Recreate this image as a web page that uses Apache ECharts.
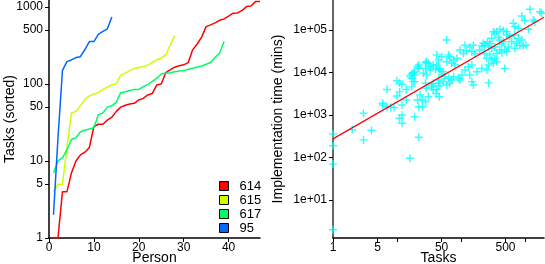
<!DOCTYPE html>
<html><head><meta charset="utf-8">
<script src="https://cdn.jsdelivr.net/npm/echarts@6/dist/echarts.min.js"></script>
<style>html,body{margin:0;padding:0;background:#fff}#c{width:545px;height:264px}</style>
</head><body><div id="c"></div>
<script>
// Left panel: tasks per person, sorted
const tasks614 = [1,1,4,4,7,10,12,13,15,28,30,30,34,37,44,50,53,55,56,62,65,72,75,97,100,140,152,165,172,177,189,277,330,405,555,584,620,670,700,760,828,835,900,1010,1030,1172,1172];
const tasks615 = [4,5,5,15,42,44,52,63,70,74,77,85,91,97,101,130,138,149,159,164,168,175,190,205,216,238,320,420];
const tasks617 = [7,10,11,14,19,20,24,25,26,27,40,42,50,52,58,77,79,82,85,85,92,98,108,118,135,138,140,144,147,149,155,160,166,171,180,190,222,251,355];
const tasks95 = [2,20,150,195,205,220,226,280,355,355,440,480,520,740];
const seriesNames = ['614','615','617','95'];
const seriesColors = ['#FF0000','#CCFF00','#00FF66','#0066FF'];
const leftXTicks = [0,10,20,30,40];
const leftYTicks = [1,5,10,50,100,500,1000];

// Right panel: tasks vs implementation time
const scatterTasks = [1,1,1,1,2,3,3,4,6,7,8,9,6,7,10,11,12,10,11,12,11,12,12,14,14,16,17,18,19,17,16,19,19,21,22,21,22,23,25,28,28,29,31,33,35,37,42,41,45,46,42,45,
1210,1730,1840,900,1000,1360,1430,660,700,795,1140,407,463,523,365,340,323,523,582,697,795,898,305,387,407,463,437,260,284,237,272,305,340,750,834,950,1050,626,554,697,407,487,365,437,523,
60,116,138,157,213,225,97,110,124,149,165,198,237,284,255,64,67,77,87,60,72,81,42,45,50,29,31,28,33,37,22,19,17,26,40,18,25,28,29,37,35,45,53,60,67,72,97,47,47,53,50,56,64,77,92,104,116,131,149,178,213,255,272,323,365,305,340,487,272,149,157,138,22];
const scatterMins = [360,190,70,2,450,1100,260,440,1720,1570,1520,1500,1900,4000,6400,5700,5300,2800,3500,1720,840,1000,640,4000,2250,8300,9200,9900,8700,4600,96,6100,910,13700,15000,2250,300,2950,1570,17000,5600,8700,2700,11500,5100,3900,4000,3200,4800,2700,15000,12500,
307000,270000,247000,213000,165000,172000,157000,144000,120000,110000,104000,104000,96000,91000,91000,84000,91000,76000,69500,76000,64000,58000,64000,67000,58000,53000,47000,53000,48600,44000,40000,37000,40000,48600,44000,42000,44000,53000,40000,37000,34000,35000,28000,29000,31000,
58000,44000,40000,44000,42000,48600,34000,28000,32600,31000,28000,34000,28000,26000,21600,26000,23500,19700,21600,18000,16500,15000,26000,19700,23500,18000,16500,12500,13700,15000,12500,10400,7300,9600,12000,6100,2250,2050,4250,5600,4600,6700,6100,5100,5600,6700,6700,5600,11500,10400,8700,8000,7300,8000,7300,8700,11500,13700,15000,10400,12500,11500,15000,16500,18000,19700,21600,12500,5700,6100,5100,8700,1570];
const fitTasks = [1, 2000];
const fitMins = [275, 200000];
const rightXTicks = [1,5,10,50,100,500,1000];
const rightXLabels = [1,5,50,500];
const rightYTicks = [10,100,1000,10000,100000];

const font = '"Liberation Sans", Arial, Helvetica, sans-serif';
const chart = echarts.init(document.getElementById('c'));
const leftLines = [tasks614, tasks615, tasks617, tasks95];
const plusPath = 'path://M4.1,0h1.8v4.1h4.1v1.8h-4.1v4.1h-1.8v-4.1h-4.1v-1.8h4.1z';

const series = leftLines.map((arr, k) => ({
  name: seriesNames[k], type: 'line', xAxisIndex: 0, yAxisIndex: 0,
  data: arr.map((v, i) => [i + 1, v]), showSymbol: false, symbol: 'none',
  lineStyle: {color: seriesColors[k], width: 1.5}, itemStyle: {color: seriesColors[k]}
}));
series.push({
  type: 'scatter', xAxisIndex: 1, yAxisIndex: 1, symbol: plusPath, symbolSize: 8,
  itemStyle: {color: '#00FFFF'}, data: scatterTasks.map((t, i) => [t, scatterMins[i]])
});
series.push({
  type: 'line', xAxisIndex: 1, yAxisIndex: 1, showSymbol: false, symbol: 'none',
  lineStyle: {color: '#FF0000', width: 1.2}, data: fitTasks.map((t, i) => [t, fitMins[i]])
});

const axisText = {color: '#000', fontSize: 12, fontFamily: font};
const nameText = {color: '#000', fontSize: 14, fontFamily: font};

chart.setOption({
  animation: false,
  textStyle: {fontFamily: font},
  grid: [
    {left: 49, top: 0, width: 211, height: 238, outerBoundsMode: 'none', containLabel: false},
    {left: 333, top: 0, width: 211, height: 238, outerBoundsMode: 'none', containLabel: false}
  ],
  legend: {
    data: seriesNames, orient: 'vertical', left: 214, top: 174, itemWidth: 9, itemHeight: 9, itemGap: 0,
    icon: 'rect', itemStyle: {borderColor: '#000', borderWidth: 1},
    textStyle: {fontSize: 13, color: '#000', lineHeight: 14, fontFamily: font, padding: [0, 0, 0, 6]}
  },
  xAxis: [
    {gridIndex: 0, type: 'value', min: 0, max: 47, interval: 10,
     name: 'Person', nameLocation: 'middle', nameGap: 13, nameMoveOverlap: false, nameTextStyle: nameText,
     axisLine: {onZero: false, lineStyle: {color: '#000', width: 1.5}},
     axisTick: {length: 4, lineStyle: {color: '#000'}, customValues: leftXTicks},
     axisLabel: Object.assign({margin: 4, customValues: leftXTicks}, axisText),
     splitLine: {show: false}},
    {gridIndex: 1, type: 'log', logBase: 10, min: 1, max: 2000,
     name: 'Tasks', nameLocation: 'middle', nameGap: 13, nameMoveOverlap: false, nameTextStyle: nameText,
     axisLine: {onZero: false, lineStyle: {color: '#000', width: 1.5}},
     axisTick: {length: 4, lineStyle: {color: '#000'}, customValues: rightXTicks},
     axisLabel: Object.assign({margin: 4, customValues: rightXLabels, formatter: v => String(v)}, axisText),
     splitLine: {show: false}, minorTick: {show: false}}
  ],
  yAxis: [
    {gridIndex: 0, type: 'log', logBase: 10, min: 1, max: 1230,
     name: 'Tasks (sorted)', nameLocation: 'middle', nameGap: 32, nameMoveOverlap: false, nameTextStyle: nameText,
     axisLine: {onZero: false, lineStyle: {color: '#000', width: 1.5}},
     axisTick: {length: 4, lineStyle: {color: '#000'}, customValues: leftYTicks},
     axisLabel: Object.assign({margin: 6, customValues: leftYTicks, formatter: v => String(v)}, axisText),
     splitLine: {show: false}},
    {gridIndex: 1, type: 'log', logBase: 10, min: 1.28, max: 508000,
     name: 'Implementation time (mins)', nameLocation: 'middle', nameGap: 48, nameMoveOverlap: false, nameTextStyle: nameText,
     axisLine: {onZero: false, lineStyle: {color: '#666', width: 2}},
     axisTick: {length: 4, lineStyle: {color: '#000'}, customValues: rightYTicks},
     axisLabel: Object.assign({margin: 6, customValues: rightYTicks,
       formatter: v => '1e+0' + Math.round(Math.log10(v))}, axisText),
     splitLine: {show: false}}
  ],
  series: series
});
</script></body></html>
